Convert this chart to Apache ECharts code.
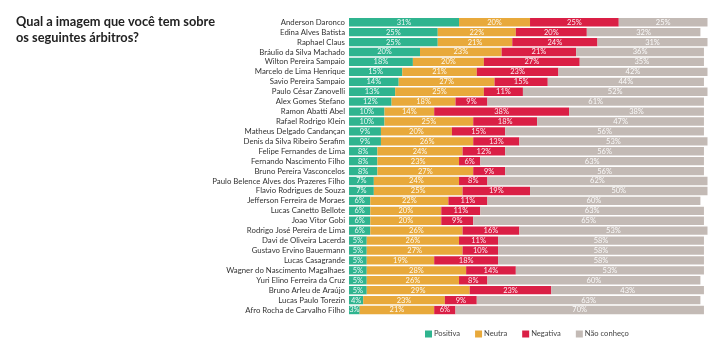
<!DOCTYPE html>
<html>
<head>
<meta charset="utf-8">
<style>
  html, body { margin: 0; padding: 0; background: #fff; }
  #chart { width: 724px; height: 346px; }
</style>
<script src="https://cdn.jsdelivr.net/npm/echarts@6/dist/echarts.min.js"></script>
</head>
<body>
<div id="chart"></div>
<script>
// Referees, top to bottom
const referees = [
  'Anderson Daronco', 'Edina Alves Batista', 'Raphael Claus', 'Bráulio da Silva Machado',
  'Wilton Pereira Sampaio', 'Marcelo de Lima Henrique', 'Savio Pereira Sampaio',
  'Paulo César Zanovelli', 'Alex Gomes Stefano', 'Ramon Abatti Abel', 'Rafael Rodrigo Klein',
  'Matheus Delgado Candançan', 'Denis da Silva Ribeiro Serafim', 'Felipe Fernandes de Lima',
  'Fernando Nascimento Filho', 'Bruno Pereira Vasconcelos', 'Paulo Belence Alves dos Prazeres Filho',
  'Flavio Rodrigues de Souza', 'Jefferson Ferreira de Moraes', 'Lucas Canetto Bellote',
  'Joao Vitor Gobi', 'Rodrigo José Pereira de Lima', 'Davi de Oliveira Lacerda',
  'Gustavo Ervino Bauermann', 'Lucas Casagrande', 'Wagner do Nascimento Magalhaes',
  'Yuri Elino Ferreira da Cruz', 'Bruno Arleu de Araújo', 'Lucas Paulo Torezin',
  'Afro Rocha de Carvalho Filho'
];

// Share of answers (%) per referee
const positiva = [31, 25, 25, 20, 18, 15, 14, 13, 12, 10, 10, 9, 9, 8, 8, 8, 7, 7, 6, 6, 6, 6, 5, 5, 5, 5, 5, 5, 4, 3];
const neutra   = [20, 22, 21, 23, 20, 21, 27, 25, 18, 14, 25, 20, 26, 24, 23, 27, 24, 25, 22, 20, 20, 26, 26, 27, 19, 28, 26, 29, 23, 21];
const negativa = [25, 20, 24, 21, 27, 23, 15, 11, 9, 38, 18, 15, 13, 12, 6, 9, 8, 19, 11, 11, 9, 16, 11, 10, 18, 14, 8, 23, 9, 6];
const naoConheco = [25, 32, 31, 36, 35, 42, 44, 52, 61, 38, 47, 56, 53, 56, 63, 56, 62, 50, 60, 63, 65, 53, 58, 58, 58, 53, 60, 43, 63, 70];

const seriesNames = ['Positiva', 'Neutra', 'Negativa', 'Não conheço'];
const seriesColors = ['#2fb48f', '#e8a93b', '#da1f45', '#c3bab5'];
const seriesData = [positiva, neutra, negativa, naoConheco];

const chart = echarts.init(document.getElementById('chart'), null, { renderer: 'canvas' });

chart.setOption({
  animation: false,
  backgroundColor: '#ffffff',
  textStyle: { fontFamily: 'Lato' },
  title: {
    text: 'Qual a imagem que você tem sobre\nos seguintes árbitros?',
    left: 11,
    top: 9,
    textStyle: {
      fontFamily: 'Lato',
      fontWeight: 'bold',
      fontSize: 12.8,
      lineHeight: 16,
      color: '#222222'
    }
  },
  legend: {
    data: seriesNames,
    left: 420,
    top: 325,
    itemWidth: 7,
    itemHeight: 7,
    itemGap: 15,
    icon: 'rect',
    textStyle: { fontFamily: 'Lato', fontSize: 7.6, color: '#444444', padding: [0, 0, 0, -3] }
  },
  grid: {
    left: 349,
    right: 16.5,
    top: 17.3,
    bottom: 31,
    containLabel: false
  },
  xAxis: {
    type: 'value',
    min: 0,
    max: 101,
    show: false
  },
  yAxis: {
    type: 'category',
    data: referees,
    inverse: true,
    axisLine: { show: false },
    axisTick: { show: false },
    axisLabel: {
      interval: 0,
      fontFamily: 'Lato',
      fontSize: 7.8,
      color: '#333333',
      margin: 4
    }
  },
  series: seriesNames.map((name, i) => ({
    name: name,
    type: 'bar',
    stack: 'total',
    barCategoryGap: '16%',
    data: seriesData[i],
    itemStyle: { color: seriesColors[i] },
    label: {
      show: true,
      position: 'inside',
      formatter: '{c}%',
      fontFamily: 'Lato',
      fontSize: 7.5,
      color: 'rgba(255,255,255,0.92)'
    }
  }))
});
</script>
</body>
</html>
